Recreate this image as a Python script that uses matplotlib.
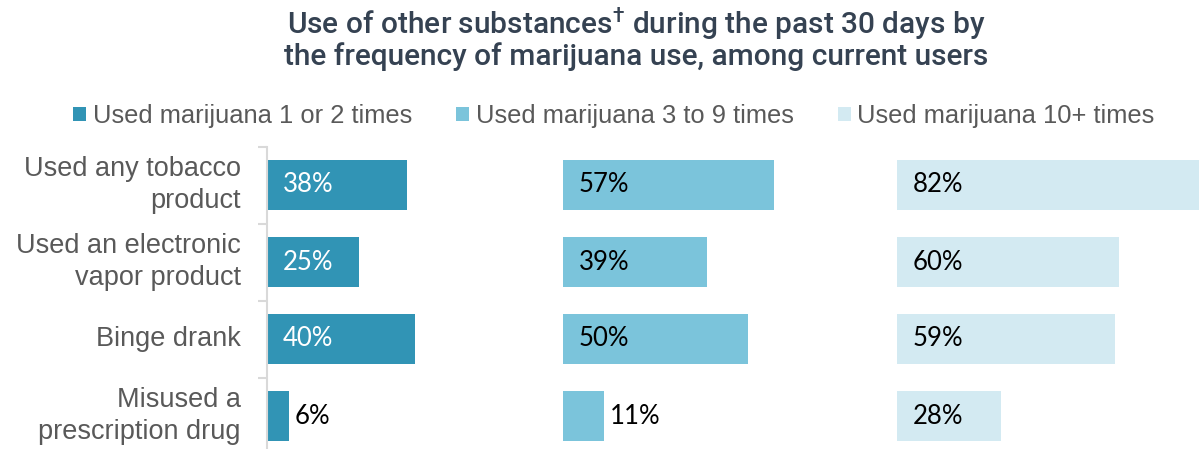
import matplotlib.pyplot as plt

# data
categories = ["Used any tobacco\nproduct", "Used an electronic\nvapor product",
              "Binge drank", "Misused a\nprescription drug"]
series_names = ["Used marijuana 1 or 2 times", "Used marijuana 3 to 9 times",
                "Used marijuana 10+ times"]
used_1_2 = [38, 25, 40, 6]
used_3_9 = [57, 39, 50, 11]
used_10_plus = [82, 60, 59, 28]

colors = ["#3194B5", "#7BC4DB", "#D3EAF2"]
label_colors = ["white", "black", "black"]
gray = "#595959"

# dagger in the title comes from the same font through mathtext
plt.rcParams["mathtext.fontset"] = "custom"
plt.rcParams["mathtext.rm"] = "Roboto:medium"

W, H = 1199, 449
px_per = 3.7                      # pixels per percentage point
panel_left = [266.5, 563, 897]    # left edge of each panel in pixels
panel_max = [80, 90, 82]

fig = plt.figure(figsize=(W / 100, H / 100), dpi=100)

series = [used_1_2, used_3_9, used_10_plus]
handles = []
for k, vals in enumerate(series):
    ax = fig.add_axes([panel_left[k] / W, (H - 454.5) / H,
                       panel_max[k] * px_per / W, 308 / H])
    bars = ax.barh(range(len(categories)), vals, height=0.66, color=colors[k],
                   label=series_names[k])
    handles.append(bars)
    ax.set_xlim(0, panel_max[k])
    ax.set_ylim(len(categories) - 0.5, -0.5)
    ax.set_xticks([])
    for s in ["top", "right", "bottom"]:
        ax.spines[s].set_visible(False)

    for i, v in enumerate(vals):
        if v >= 20:
            ax.annotate(f"{v}%", xy=(0, i), xytext=(16 * 0.72, 0), textcoords="offset points",
                        va="center", ha="left", color=label_colors[k],
                        fontsize=18.5, family="Lato")
        else:
            ax.annotate(f"{v}%", xy=(v, i), xytext=(6 * 0.72, 0), textcoords="offset points",
                        va="center", ha="left", color="black",
                        fontsize=18.5, family="Lato")

    if k == 0:
        ax.spines["left"].set_color("#D9D9D9")
        ax.spines["left"].set_linewidth(1.5)
        ax.set_yticks(range(len(categories)), categories)
        ax.set_yticks([i - 0.5 for i in range(len(categories) + 1)], minor=True)
        ax.tick_params(axis="y", which="major", length=0, pad=18.7,
                       labelsize=19.5, labelcolor=gray)
        ax.tick_params(axis="y", which="minor", length=6.5, width=1.5, color="#D9D9D9")
        for lab in ax.get_yticklabels():
            lab.set_family("Liberation Sans")
            lab.set_va("center")
            lab.set_linespacing(1.3)
    else:
        ax.spines["left"].set_visible(False)
        ax.set_yticks([])

# legend across the top
leg = fig.legend(handles=handles, loc="center", bbox_to_anchor=(614 / W, (H - 116) / H),
                 ncol=3, frameon=False, handlelength=0.5, handleheight=0.5,
                 handletextpad=0.25, columnspacing=1.75,
                 prop={"family": "Liberation Sans", "size": 18.4})
for t in leg.get_texts():
    t.set_color(gray)

# two-line title
fig.text(636 / W, (H - 6) / H,
         "Use of other substances$^{\\dag}$ during the past 30 days by\n"
         "the frequency of marijuana use, among current users",
         family="Roboto", weight="medium", fontsize=21.5, color="#354252",
         ha="center", va="top", linespacing=0.95)

fig.savefig("out.png", dpi=100)
